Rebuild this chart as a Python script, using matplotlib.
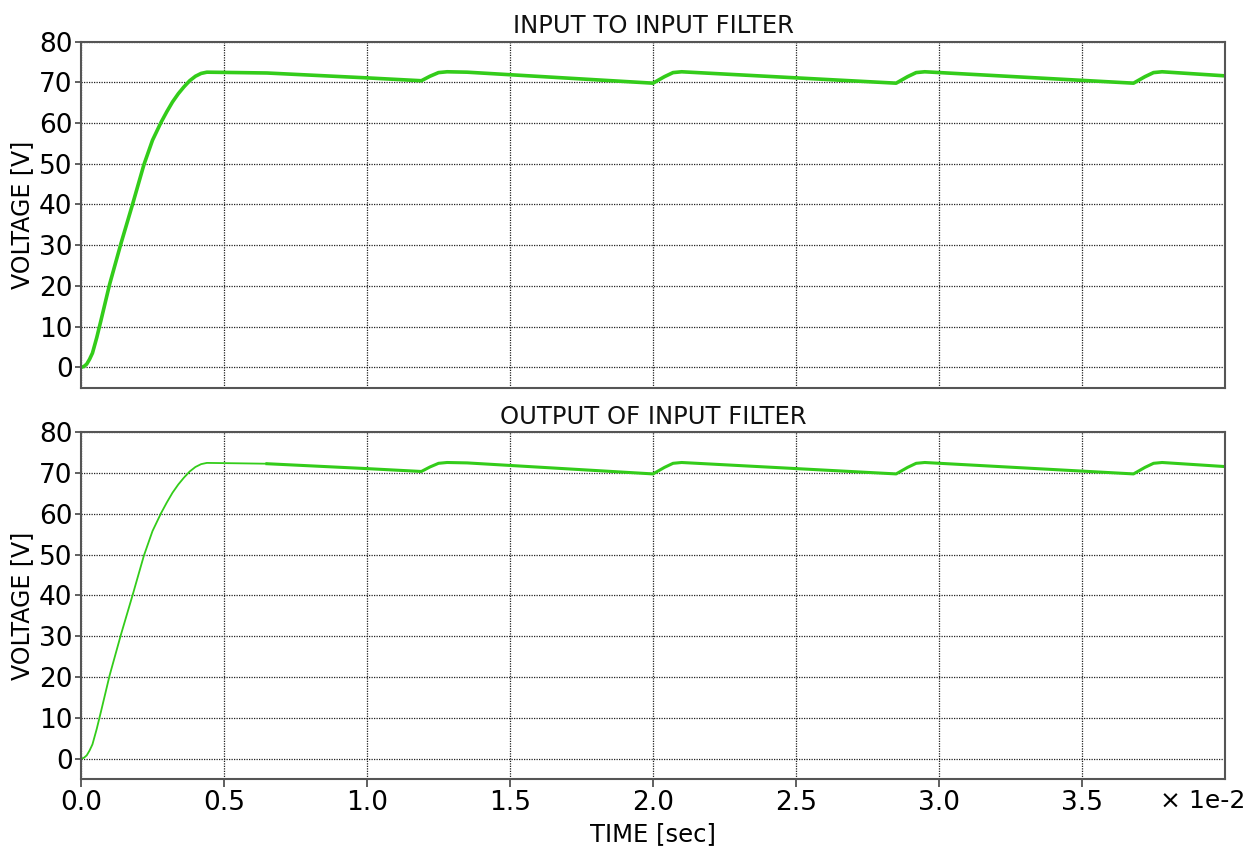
import matplotlib
matplotlib.use('Agg')
import matplotlib.pyplot as plt

# Time in units of 1e-2 s, voltage in V.
time_e2 = [0.0, 0.01, 0.02, 0.03, 0.04, 0.055, 0.07, 0.10, 0.14, 0.18,
           0.22, 0.25, 0.28, 0.30, 0.32, 0.34, 0.36, 0.38, 0.40, 0.42,
           0.44, 0.55, 0.65, 1.0, 1.19, 1.22, 1.25, 1.28, 1.35, 2.0,
           2.04, 2.07, 2.10, 2.85, 2.89, 2.92, 2.95, 3.68, 3.72, 3.75,
           3.78, 4.0]
input_v = [0.0, 0.2, 0.8, 2.0, 3.5, 7.3, 11.6, 20.4, 30.5, 40.0,
           49.8, 55.8, 60.2, 62.8, 65.2, 67.2, 68.9, 70.4, 71.5, 72.2,
           72.5, 72.4, 72.3, 71.1, 70.4, 71.5, 72.4, 72.6, 72.5, 69.8,
           71.4, 72.4, 72.6, 69.8, 71.4, 72.4, 72.6, 69.8, 71.4, 72.4,
           72.6, 71.6]
output_v = list(input_v)

titles = ['INPUT TO INPUT FILTER', 'OUTPUT OF INPUT FILTER']
xticks = [0.0, 0.5, 1.0, 1.5, 2.0, 2.5, 3.0, 3.5]
yticks = [0, 10, 20, 30, 40, 50, 60, 70, 80]

green = '#33cc1a'

fig = plt.figure(figsize=(12.58, 8.5), dpi=100)
ax1 = fig.add_axes([0.0644, 0.5439, 0.9094, 0.4071])
ax2 = fig.add_axes([0.0644, 0.0835, 0.9094, 0.4079])

ax1.plot(time_e2, input_v, color=green, lw=2.6, solid_capstyle='round')
# the output trace is thin during the start-up rise
split = time_e2.index(0.65)
ax2.plot(time_e2[:split + 1], output_v[:split + 1], color=green, lw=1.3)
ax2.plot(time_e2[split:], output_v[split:], color=green, lw=2.2)

for ax, title in zip([ax1, ax2], titles):
    ax.set_xlim(0, 4.0)
    ax.set_ylim(-5, 80)
    ax.set_xticks(xticks)
    ax.set_yticks(yticks)
    ax.grid(True, color='#222222', linestyle=(0, (1, 1)), linewidth=0.9)
    ax.set_title(title, fontsize=17.5, pad=6, color='#111111')
    ax.set_ylabel('VOLTAGE [V]', fontsize=17, labelpad=4)
    ax.tick_params(direction='out', length=4, width=1.2, labelsize=19,
                   color='#444444', pad=2)
    for s in ax.spines.values():
        s.set_color('#555555')
        s.set_linewidth(1.5)

ax1.tick_params(axis='x', labelbottom=False, length=0)
ax2.tick_params(axis='x', length=6)
ax2.set_xticklabels(['%.1f' % t for t in xticks])
ax2.set_xlabel('TIME [sec]', fontsize=17.5, labelpad=4)
fig.text(0.990, 0.058, '× 1e-2', fontsize=18, ha='right', va='center')

plt.savefig('out.png', dpi=100)
plt.close()
